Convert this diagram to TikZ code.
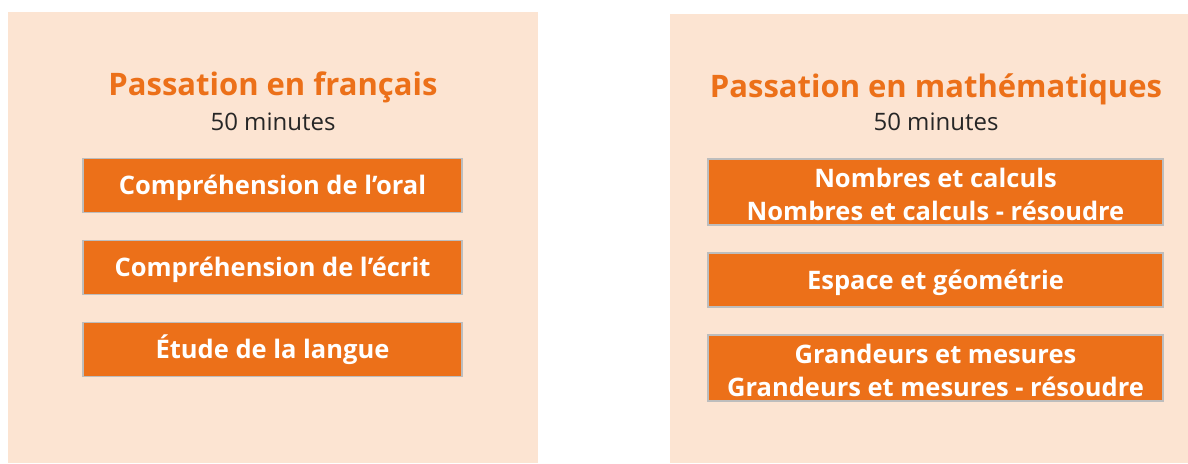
\documentclass[tikz,border=0pt]{standalone}
\usepackage{fontspec}
\setmainfont{Open Sans}
\newfontfamily\titlefont{Open Sans}[RawFeature=-liga]
\definecolor{panelbg}{HTML}{FCE4D2}
\definecolor{orng}{HTML}{EC7019}
\definecolor{bordergray}{HTML}{BDBDBD}
\tikzset{
  panel/.style={fill=panelbg, draw=none},
  ttl/.style={anchor=base, text=orng, font=\titlefont\bfseries\fontsize{31}{36}\selectfont, inner sep=0},
  sub/.style={anchor=base, text=black!85, font=\titlefont\fontsize{24}{28}\selectfont, inner sep=0},
  item/.style={fill=orng, draw=bordergray, line width=1.4pt, text=white, align=center,
    font=\titlefont\bfseries\fontsize{25.5}{33}\selectfont, inner sep=0},
  one/.style={text height=18.2pt, text depth=0pt},
  two/.style={text height=56.5pt, text depth=0pt},
}
\begin{document}
\begin{tikzpicture}[x=1pt,y=1pt]
\useasboundingbox (0,0) rectangle (1188,463);
\fill[panel] (8,0) rectangle (538,451);
\fill[panel] (670,0) rectangle (1188,449);
% left
\node[ttl] (t1) at (273,367) {Passation en français};
\node[sub] (s1) at (273,332) {50 minutes};
\node[item, one, minimum width=379pt, minimum height=54pt] (a1) at (272.5,277.5) {Compréhension de l’oral};
\node[item, one, minimum width=379pt, minimum height=54pt] (a2) at (272.5,195.5) {Compréhension de l’écrit};
\node[item, one, minimum width=379pt, minimum height=54pt] (a3) at (272.5,113.5) {Étude de la langue};
% right
\node[ttl] (t2) at (936,365) {Passation en mathématiques};
\node[sub] (s2) at (936,332) {50 minutes};
\node[item, two, minimum width=455pt, minimum height=66pt] (b1) at (935.5,271) {Nombres et calculs\\Nombres et calculs - résoudre};
\node[item, one, minimum width=455pt, minimum height=54pt] (b2) at (935.5,183) {Espace et géométrie};
\node[item, two, minimum width=455pt, minimum height=66pt] (b3) at (935.5,95) {Grandeurs et mesures\\Grandeurs et mesures - résoudre};
\end{tikzpicture}
\end{document}
